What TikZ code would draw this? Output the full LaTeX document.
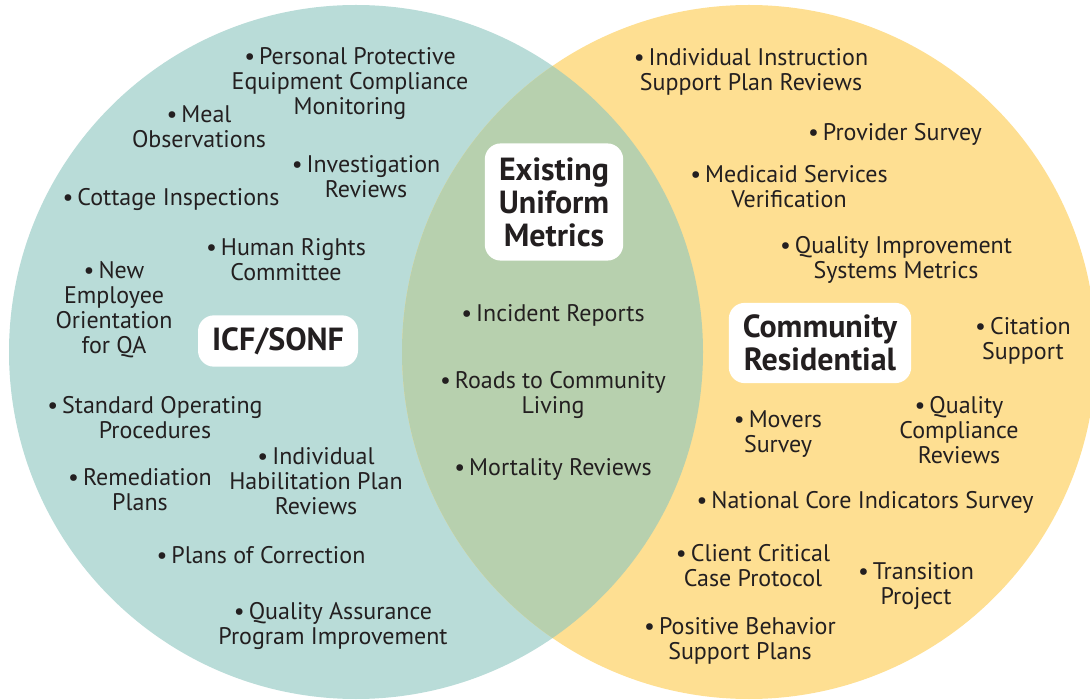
\documentclass[tikz,border=0pt]{standalone}
\usepackage{fontspec}
\setmainfont{PT Sans}
\usetikzlibrary{positioning}
\definecolor{icfteal}{RGB}{185,220,216}
\definecolor{commyellow}{RGB}{254,223,146}
\definecolor{sharedgreen}{RGB}{183,208,174}
\definecolor{inkgray}{RGB}{35,31,32}

\begin{document}
\begin{tikzpicture}[
    x=1pt, y=-1pt,
    metric/.style={align=center, text=inkgray, font=\fontsize{24}{25}\selectfont, inner sep=0pt},
    group/.style={fill=white, rounded corners=16pt, align=center, text=inkgray, font=\bfseries\fontsize{32}{33}\selectfont, inner xsep=14pt, inner ysep=12pt}
]
\useasboundingbox (0,0) rectangle (1090,700);
\clip (0,0) rectangle (1090,700);

% Circles
\fill[icfteal] (356,352) circle[radius=347pt];
\fill[commyellow] (749,352) circle[radius=347pt];
\begin{scope}
  \clip (356,352) circle[radius=347pt];
  \fill[sharedgreen] (749,352) circle[radius=347pt];
\end{scope}

% Group labels
\node[group, inner ysep=14pt] (shared) at (554,202) {Existing\\Uniform\\Metrics};
\node[group] (icf) at (278,341) {ICF/SONF};
\node[group] (community) at (820,343) {Community\\Residential};

% ICF/SONF metrics
\node[metric] (ppe) at (350,84) {\textbullet\,Personal Protective\\Equipment Compliance\\Monitoring};
\node[metric] (meal) at (199,127) {\textbullet\,Meal\\Observations};
\node[metric] (investigation) at (366,177) {\textbullet\,Investigation\\Reviews};
\node[metric] (cottage) at (171,200) {\textbullet\,Cottage Inspections};
\node[metric] (rights) at (286,260) {\textbullet\,Human Rights\\Committee};
\node[metric] (orientation) at (114,310) {\textbullet\,New\\Employee\\Orientation\\for QA};
\node[metric] (sop) at (155,418) {\textbullet\,Standard Operating\\Procedures};
\node[metric] (remediation) at (140,490) {\textbullet\,Remediation\\Plans};
\node[metric] (habilitation) at (316,481) {\textbullet\,Individual\\Habilitation Plan\\Reviews};
\node[metric] (correction) at (261,555) {\textbullet\,Plans of Correction};
\node[metric] (qapi) at (333,626) {\textbullet\,Quality Assurance\\Program Improvement};

% Shared metrics
\node[metric] (incident) at (553,315) {\textbullet\,Incident Reports};
\node[metric] (roads) at (553,395) {\textbullet\,Roads to Community\\Living};
\node[metric] (mortality) at (553,469) {\textbullet\,Mortality Reviews};

% Community Residential metrics
\node[metric] (isp) at (751,72) {\textbullet\,Individual Instruction\\Support Plan Reviews};
\node[metric] (provider) at (895,134) {\textbullet\,Provider Survey};
\node[metric] (medicaid) at (789,187) {\textbullet\,Medicaid Services\\Verification};
\node[metric] (qism) at (896,260) {\textbullet\,Quality Improvement\\Systems Metrics};
\node[metric] (citation) at (1023,341) {\textbullet\,Citation\\Support};
\node[metric] (movers) at (778,434) {\textbullet\,Movers\\Survey};
\node[metric] (compliance) at (959,430) {\textbullet\,Quality\\Compliance\\Reviews};
\node[metric] (nci) at (865,502) {\textbullet\,National Core Indicators Survey};
\node[metric] (critical) at (753,566) {\textbullet\,Client Critical\\Case Protocol};
\node[metric] (transition) at (916,586) {\textbullet\,Transition\\Project};
\node[metric] (pbsp) at (740,641) {\textbullet\,Positive Behavior\\Support Plans};

\end{tikzpicture}
\end{document}
